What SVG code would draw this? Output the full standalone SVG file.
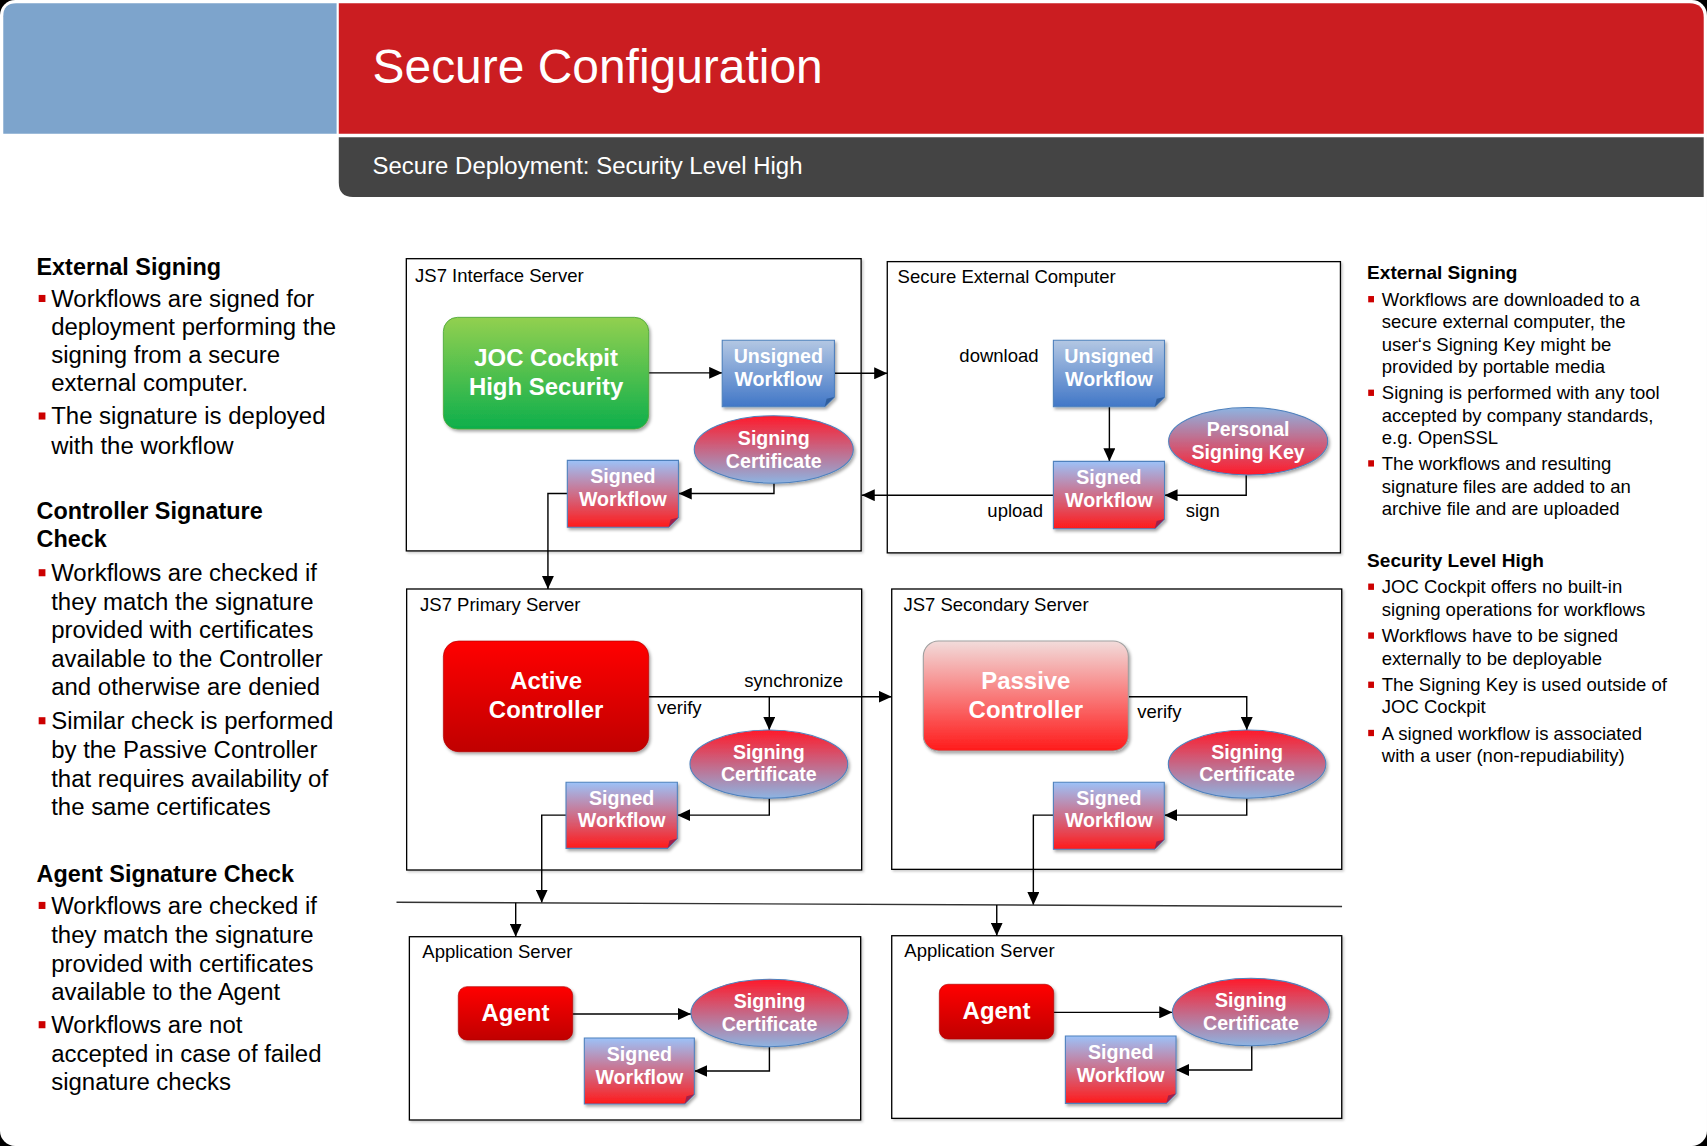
<svg xmlns="http://www.w3.org/2000/svg" width="1707" height="1146" viewBox="0 0 1707 1146">
<defs>
<style>
.t{font-family:"Liberation Sans",Arial,sans-serif;fill:#000}
.lc{font-size:22px}
.lh{font-size:21.5px;font-weight:bold}
.rc{font-size:17px}
.rh{font-size:17.5px;font-weight:bold}
.cl{font-size:17px}
.el{font-size:17px}
.nt{font-family:"Liberation Sans",Arial,sans-serif;font-weight:bold;fill:#fff;text-anchor:middle;font-size:18px}
.nb{font-family:"Liberation Sans",Arial,sans-serif;font-weight:bold;fill:#fff;text-anchor:middle;font-size:22px}
.box{fill:#fff;stroke:#000;stroke-width:1.2}
.wf{stroke:#4F81BD;stroke-width:1}
.el2{stroke:#4F81BD;stroke-width:1}
.conn path{fill:none;stroke:#000;stroke-width:1.3}
.bl{fill:#CC0000}
</style>
<linearGradient id="gU" x1="0" y1="0" x2="0" y2="1"><stop offset="0" stop-color="#B3C7E3"/><stop offset="1" stop-color="#4177C7"/></linearGradient>
<linearGradient id="gS" x1="0" y1="0" x2="0" y2="1"><stop offset="0" stop-color="#9CC2F8"/><stop offset="1" stop-color="#FF1A1A"/></linearGradient>
<linearGradient id="gC" x1="0" y1="0" x2="0" y2="1"><stop offset="0" stop-color="#FF1A2A"/><stop offset="1" stop-color="#8DB4E2"/></linearGradient>
<linearGradient id="gK" x1="0" y1="0" x2="0" y2="1"><stop offset="0" stop-color="#8DB4E2"/><stop offset="1" stop-color="#FF1A2A"/></linearGradient>
<linearGradient id="gJ" x1="0" y1="0" x2="0" y2="1"><stop offset="0" stop-color="#92D050"/><stop offset="1" stop-color="#0EAF4C"/></linearGradient>
<linearGradient id="gA" x1="0" y1="0" x2="0" y2="1"><stop offset="0" stop-color="#FF0000"/><stop offset="1" stop-color="#C00000"/></linearGradient>
<linearGradient id="gP" x1="0" y1="0" x2="0" y2="1"><stop offset="0" stop-color="#F2DCDB"/><stop offset="1" stop-color="#FF1A1A"/></linearGradient>
<filter id="sh" x="-10%" y="-10%" width="125%" height="130%"><feDropShadow dx="1.5" dy="2" stdDeviation="1.5" flood-color="#000" flood-opacity="0.35"/></filter>
<filter id="sh2" x="-5%" y="-5%" width="110%" height="110%"><feDropShadow dx="1.5" dy="1.5" stdDeviation="1" flood-color="#000" flood-opacity="0.2"/></filter>
<marker id="ar" viewBox="0 0 12 11" refX="12" refY="5.5" markerWidth="12" markerHeight="11" markerUnits="userSpaceOnUse" orient="auto"><path d="M0,0 L12,5.5 L0,11 Z" fill="#000"/></marker>
</defs>
<rect x="0" y="0" width="1707" height="1146" fill="#000"/>
<g transform="scale(1.08934 1.08832)">
<rect x="0" y="0" width="1567" height="1053" rx="14" fill="#fff"/>
<g id="header">
<path d="M3,15 Q3,3 15,3 H309 V123 H3 Z" fill="#7DA4CC"/>
<path d="M311,3 H1551 Q1564,3 1564,16 V123 H311 Z" fill="#CB1D21"/>
<path d="M311,126 H1564 V181 H324 Q311,181 311,168 Z" fill="#444444"/>
<text x="342" y="76" font-family="Liberation Sans, Arial, sans-serif" font-size="44" fill="#fff">Secure Configuration</text>
<text x="342" y="160" font-family="Liberation Sans, Arial, sans-serif" font-size="22" fill="#fff">Secure Deployment: Security Level High</text>
</g>
<g id="left-text" class="t">
<text class="t lh" x="33.5" y="252.7">External Signing</text>
<text class="t lc" x="47"><tspan x="47" y="282">Workflows are signed for</tspan><tspan x="47" y="307.8">deployment performing the</tspan><tspan x="47" y="333.5">signing from a secure</tspan><tspan x="47" y="359.7">external computer.</tspan><tspan x="47" y="390">The signature is deployed</tspan><tspan x="47" y="416.9">with the workflow</tspan></text>
<text class="t lh" x="33.5"><tspan x="33.5" y="476.8">Controller Signature</tspan><tspan x="33.5" y="503">Check</tspan></text>
<text class="t lc" x="47"><tspan x="47" y="534">Workflows are checked if</tspan><tspan x="47" y="560.4">they match the signature</tspan><tspan x="47" y="586">provided with certificates</tspan><tspan x="47" y="612.5">available to the Controller</tspan><tspan x="47" y="638.5">and otherwise are denied</tspan><tspan x="47" y="670">Similar check is performed</tspan><tspan x="47" y="696.6">by the Passive Controller</tspan><tspan x="47" y="722.8">that requires availability of</tspan><tspan x="47" y="748.8">the same certificates</tspan></text>
<text class="t lh" x="33.5" y="810">Agent Signature Check</text>
<text class="t lc" x="47"><tspan x="47" y="839.7">Workflows are checked if</tspan><tspan x="47" y="866.6">they match the signature</tspan><tspan x="47" y="892.7">provided with certificates</tspan><tspan x="47" y="918.8">available to the Agent</tspan><tspan x="47" y="949.3">Workflows are not</tspan><tspan x="47" y="975.4">accepted in case of failed</tspan><tspan x="47" y="1001.4">signature checks</tspan></text>
<rect class="bl" x="35.5" y="271" width="6.2" height="6.5"/>
<rect class="bl" x="35.5" y="379" width="6.2" height="6.5"/>
<rect class="bl" x="35.5" y="523" width="6.2" height="6.5"/>
<rect class="bl" x="35.5" y="659" width="6.2" height="6.5"/>
<rect class="bl" x="35.5" y="828.7" width="6.2" height="6.5"/>
<rect class="bl" x="35.5" y="938.3" width="6.2" height="6.5"/>
</g>
<g id="right-text">
<text class="t rh" x="1255" y="256.6">External Signing</text>
<text class="t rc"><tspan x="1268.5" y="281">Workflows are downloaded to a</tspan><tspan x="1268.5" y="301.5">secure external computer, the</tspan><tspan x="1268.5" y="322.1">user‘s Signing Key might be</tspan><tspan x="1268.5" y="342.6">provided by portable media</tspan><tspan x="1268.5" y="367">Signing is performed with any tool</tspan><tspan x="1268.5" y="387.6">accepted by company standards,</tspan><tspan x="1268.5" y="408.2">e.g. OpenSSL</tspan><tspan x="1268.5" y="431.9">The workflows and resulting</tspan><tspan x="1268.5" y="453.4">signature files are added to an</tspan><tspan x="1268.5" y="473.3">archive file and are uploaded</tspan></text>
<text class="t rh" x="1255" y="520.8">Security Level High</text>
<text class="t rc"><tspan x="1268.5" y="545.2">JOC Cockpit offers no built-in</tspan><tspan x="1268.5" y="565.7">signing operations for workflows</tspan><tspan x="1268.5" y="590.1">Workflows have to be signed</tspan><tspan x="1268.5" y="610.7">externally to be deployable</tspan><tspan x="1268.5" y="635.3">The Signing Key is used outside of</tspan><tspan x="1268.5" y="655.3">JOC Cockpit</tspan><tspan x="1268.5" y="679.6">A signed workflow is associated</tspan><tspan x="1268.5" y="700.2">with a user (non-repudiability)</tspan></text>
<rect class="bl" x="1256" y="272" width="5.3" height="5.8"/>
<rect class="bl" x="1256" y="358" width="5.3" height="5.8"/>
<rect class="bl" x="1256" y="422.9" width="5.3" height="5.8"/>
<rect class="bl" x="1256" y="536.2" width="5.3" height="5.8"/>
<rect class="bl" x="1256" y="581.1" width="5.3" height="5.8"/>
<rect class="bl" x="1256" y="626.3" width="5.3" height="5.8"/>
<rect class="bl" x="1256" y="670.6" width="5.3" height="5.8"/>
</g>
<g id="containers">
<g id="c-interface"><rect class="box" x="373" y="237.7" width="417.5" height="268.5" filter="url(#sh2)"/><text class="t cl" x="381" y="258.8">JS7 Interface Server</text></g>
<g id="c-external"><rect class="box" x="814.5" y="240.4" width="416" height="267.6" filter="url(#sh2)"/><text class="t cl" x="824" y="260.5">Secure External Computer</text></g>
<g id="c-primary"><rect class="box" x="373.3" y="541.2" width="417.7" height="258.2" filter="url(#sh2)"/><text class="t cl" x="385.6" y="561">JS7 Primary Server</text></g>
<g id="c-secondary"><rect class="box" x="818.6" y="541.2" width="413.1" height="257.6" filter="url(#sh2)"/><text class="t cl" x="829.3" y="561">JS7 Secondary Server</text></g>
<g id="c-app1"><rect class="box" x="375.8" y="860.7" width="414.3" height="168.4" filter="url(#sh2)"/><text class="t cl" x="387.7" y="880">Application Server</text></g>
<g id="c-app2"><rect class="box" x="818.6" y="859.8" width="413.1" height="167.8" filter="url(#sh2)"/><text class="t cl" x="830.2" y="879">Application Server</text></g>
</g>
<g id="connectors" class="conn">
<path d="M595.5,342.6 H663" marker-end="url(#ar)"/>
<path d="M766,343 H814.5" marker-end="url(#ar)"/>
<path d="M710.5,444 V453.5 H623" marker-end="url(#ar)"/>
<path d="M520.8,453.5 H503 V541.2" marker-end="url(#ar)"/>
<path d="M1018.4,373.7 V423.9" marker-end="url(#ar)"/>
<path d="M1144,436.5 V455 H1069" marker-end="url(#ar)"/>
<path d="M967,455 H791" marker-end="url(#ar)"/>
<path d="M595.5,640.2 H818.6" marker-end="url(#ar)"/>
<path d="M706.2,640.2 V670.8" marker-end="url(#ar)"/>
<path d="M706.2,733.4 V749 H621.8" marker-end="url(#ar)"/>
<path d="M519.6,749 H497.3 V829.5" marker-end="url(#ar)"/>
<path d="M1035.8,640.2 H1144.5 V670.8" marker-end="url(#ar)"/>
<path d="M1144.5,733.4 V749 H1068.8" marker-end="url(#ar)"/>
<path d="M967,749 H948.6 V831.6" marker-end="url(#ar)"/>
<path d="M364,829 L1232,833" style="stroke:#333"/>
<path d="M473.4,829.5 V860.7" marker-end="url(#ar)"/>
<path d="M915,831.6 V859.8" marker-end="url(#ar)"/>
<path d="M525.7,931.7 H634.3" marker-end="url(#ar)"/>
<path d="M706.3,961.6 V984.1 H637.4" marker-end="url(#ar)"/>
<path d="M967.3,930.2 H1076.2" marker-end="url(#ar)"/>
<path d="M1149.1,960.8 V983.2 H1079.6" marker-end="url(#ar)"/>
<text class="t el" x="880.7" y="332.3">download</text>
<text class="t el" x="906.4" y="475.4">upload</text>
<text class="t el" x="1088.5" y="474.8">sign</text>
<text class="t el" x="683.3" y="631.5">synchronize</text>
<text class="t el" x="603.4" y="656">verify</text>
<text class="t el" x="1044" y="660">verify</text>
</g>
<g id="n-joc"><rect x="407" y="291.6" width="188.5" height="102.6" rx="13" fill="url(#gJ)" stroke="#4FA83A" stroke-width="0.8" filter="url(#sh)"/><text class="nb" x="501.3" y="336">JOC Cockpit</text><text class="nb" x="501.3" y="363">High Security</text></g>
<g id="n-unsigned1"><path d="M663,312.7 H766 V364.7 L757,373.7 H663 Z" fill="url(#gU)" class="wf" filter="url(#sh)"/><path d="M757,373.7 L766,364.7 L758.8,366.5 Z" fill="#2F5E9E"/><text class="nt" x="714.5" y="333.8">Unsigned</text><text class="nt" x="714.5" y="354.7">Workflow</text></g>
<g id="n-cert1"><ellipse cx="710.3" cy="413" rx="73" ry="31" fill="url(#gC)" class="el2" filter="url(#sh)"/><text class="nt" x="710.3" y="408.9">Signing</text><text class="nt" x="710.3" y="429.7">Certificate</text></g>
<g id="n-signed1"><path d="M520.8,423 H622.8 V475.5 L613.8,484.5 H520.8 Z" fill="url(#gS)" class="wf" filter="url(#sh)"/><path d="M613.8,484.5 L622.8,475.5 L615.6,477.3 Z" fill="#A0204A"/><text class="nt" x="571.8" y="444">Signed</text><text class="nt" x="571.8" y="465">Workflow</text></g>
<g id="n-unsigned2"><path d="M967,312.7 H1069 V364.7 L1060,373.7 H967 Z" fill="url(#gU)" class="wf" filter="url(#sh)"/><path d="M1060,373.7 L1069,364.7 L1061.8,366.5 Z" fill="#2F5E9E"/><text class="nt" x="1018" y="333.8">Unsigned</text><text class="nt" x="1018" y="354.7">Workflow</text></g>
<g id="n-key"><ellipse cx="1145.8" cy="405.4" rx="73" ry="31" fill="url(#gK)" class="el2" filter="url(#sh)"/><text class="nt" x="1145.8" y="400.6">Personal</text><text class="nt" x="1145.8" y="421.6">Signing Key</text></g>
<g id="n-signed2"><path d="M967,423.9 H1069 V476.9 L1060,485.9 H967 Z" fill="url(#gS)" class="wf" filter="url(#sh)"/><path d="M1060,485.9 L1069,476.9 L1061.8,478.7 Z" fill="#A0204A"/><text class="nt" x="1018" y="444.9">Signed</text><text class="nt" x="1018" y="465.9">Workflow</text></g>
<g id="n-active"><rect x="407" y="589" width="188.5" height="101.7" rx="14" fill="url(#gA)" stroke="#B00000" stroke-width="0.6" filter="url(#sh)"/><text class="nb" x="501.3" y="633.4">Active</text><text class="nb" x="501.3" y="660">Controller</text></g>
<g id="n-cert2"><ellipse cx="705.8" cy="702.1" rx="72.4" ry="31.3" fill="url(#gC)" class="el2" filter="url(#sh)"/><text class="nt" x="705.8" y="697.5">Signing</text><text class="nt" x="705.8" y="718">Certificate</text></g>
<g id="n-signed3"><path d="M519.6,718.8 H621.8 V770.5 L612.8,779.5 H519.6 Z" fill="url(#gS)" class="wf" filter="url(#sh)"/><path d="M612.8,779.5 L621.8,770.5 L614.6,772.3 Z" fill="#A0204A"/><text class="nt" x="570.7" y="739.3">Signed</text><text class="nt" x="570.7" y="760.2">Workflow</text></g>
<g id="n-passive"><rect x="847.6" y="589" width="188.2" height="101" rx="14" fill="url(#gP)" stroke="#A0A0A0" stroke-width="1" filter="url(#sh)"/><text class="nb" x="941.7" y="633.4">Passive</text><text class="nb" x="941.7" y="660">Controller</text></g>
<g id="n-cert3"><ellipse cx="1144.8" cy="702.1" rx="72.3" ry="31.3" fill="url(#gC)" class="el2" filter="url(#sh)"/><text class="nt" x="1144.8" y="697.5">Signing</text><text class="nt" x="1144.8" y="718">Certificate</text></g>
<g id="n-signed4"><path d="M967,718.8 H1068.8 V771.4 L1059.8,780.4 H967 Z" fill="url(#gS)" class="wf" filter="url(#sh)"/><path d="M1059.8,780.4 L1068.8,771.4 L1061.6,773.2 Z" fill="#A0204A"/><text class="nt" x="1017.9" y="739.3">Signed</text><text class="nt" x="1017.9" y="760.2">Workflow</text></g>
<g id="n-agent1"><rect x="420.7" y="906.6" width="105" height="49" rx="8" fill="url(#gA)" stroke="#B00000" stroke-width="0.6" filter="url(#sh)"/><text class="nb" x="473.2" y="937.8">Agent</text></g>
<g id="n-cert4"><ellipse cx="706.5" cy="930.8" rx="72.2" ry="31" fill="url(#gC)" class="el2" filter="url(#sh)"/><text class="nt" x="706.5" y="926.5">Signing</text><text class="nt" x="706.5" y="947">Certificate</text></g>
<g id="n-signed5"><path d="M536.4,953.8 H637.4 V1005.4 L628.4,1014.4 H536.4 Z" fill="url(#gS)" class="wf" filter="url(#sh)"/><path d="M628.4,1014.4 L637.4,1005.4 L630.2,1007.2 Z" fill="#A0204A"/><text class="nt" x="586.9" y="974.9">Signed</text><text class="nt" x="586.9" y="995.6">Workflow</text></g>
<g id="n-agent2"><rect x="862.3" y="904.4" width="105" height="50.3" rx="8" fill="url(#gA)" stroke="#B00000" stroke-width="0.6" filter="url(#sh)"/><text class="nb" x="914.8" y="936.3">Agent</text></g>
<g id="n-cert5"><ellipse cx="1148.3" cy="929.9" rx="72" ry="31" fill="url(#gC)" class="el2" filter="url(#sh)"/><text class="nt" x="1148.3" y="925.6">Signing</text><text class="nt" x="1148.3" y="946.1">Certificate</text></g>
<g id="n-signed6"><path d="M978,951.9 H1079.6 V1004.8 L1070.6,1013.8 H978 Z" fill="url(#gS)" class="wf" filter="url(#sh)"/><path d="M1070.6,1013.8 L1079.6,1004.8 L1072.4,1006.6 Z" fill="#A0204A"/><text class="nt" x="1028.8" y="973">Signed</text><text class="nt" x="1028.8" y="993.8">Workflow</text></g>
</g>
</svg>
